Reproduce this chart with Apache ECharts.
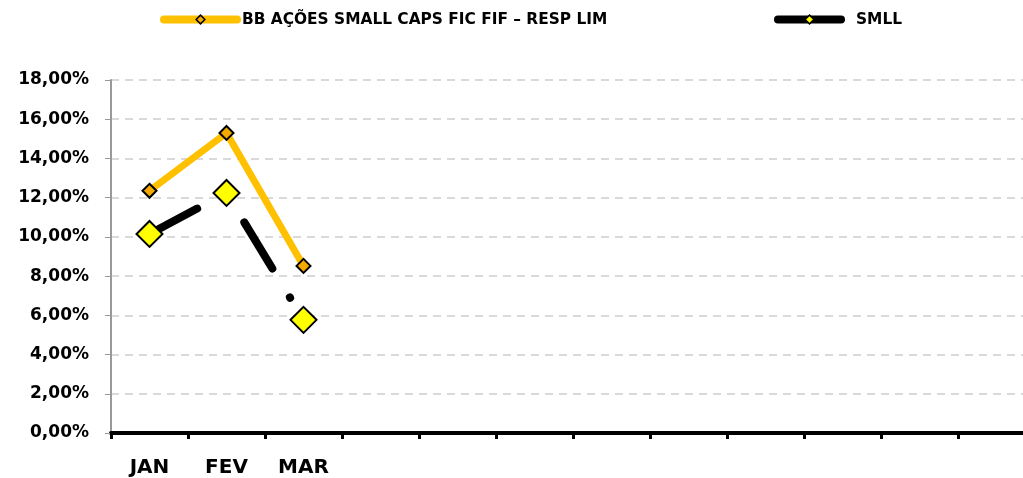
<!DOCTYPE html>
<html>
<head>
<meta charset="utf-8">
<script src="https://cdn.jsdelivr.net/npm/echarts@6/dist/echarts.min.js"></script>
<style>
    html, body {margin: 0; padding: 0; background: #fff; overflow: hidden;}
    #main {width: 1036px; height: 478px;}
</style>
</head>
<body>
<div id="main"></div>
<script>
// 月份（后面的月份没有标签）
var months = ['JAN', 'FEV', 'MAR', '', '', '', '', '', '', '', '', ''];
var fundName = 'BB AÇÕES SMALL CAPS FIC FIF – RESP LIM';
var fundValues = [12.35, 15.3, 8.52];
var indexName = 'SMLL';
var indexValues = [10.15, 12.24, 5.77];

var myChart = echarts.init(document.getElementById('main'));

var font = 'DejaVu Sans';
var legendText = {
    fontFamily: font,
    fontWeight: 'bold',
    fontSize: 15.4,
    color: '#000'
};

var option = {
    animation: false,
    backgroundColor: '#fff',
    legend: [{
        left: 160,
        top: 12,
        padding: 0,
        itemWidth: 73,
        itemHeight: 11,
        textStyle: legendText,
        data: [{
            name: fundName,
            itemStyle: {color: '#F2A900', borderColor: '#000', borderWidth: 1.5},
            lineStyle: {color: '#FFC000', width: 8, cap: 'round'}
        }]
    }, {
        left: 774,
        top: 12,
        padding: 0,
        itemWidth: 63,
        itemHeight: 11,
        textStyle: Object.assign({padding: [0, 0, 0, 10]}, legendText),
        data: [{
            name: indexName,
            itemStyle: {color: '#FFFF00', borderColor: '#000', borderWidth: 1.5},
            lineStyle: {color: '#000', width: 8, type: 'solid', cap: 'round'}
        }]
    }],
    grid: {
        left: 111,
        right: 1,
        top: 80,
        bottom: 45
    },
    xAxis: {
        type: 'category',
        data: months,
        boundaryGap: true,
        axisLine: {lineStyle: {color: '#000', width: 4}},
        axisTick: {show: true, length: 6, lineStyle: {color: '#000', width: 3}},
        axisLabel: {
            interval: 0,
            margin: 25,
            fontFamily: font,
            fontWeight: 'bold',
            fontSize: 20,
            color: '#000'
        },
        splitLine: {show: false}
    },
    yAxis: {
        type: 'value',
        min: 0,
        max: 18,
        interval: 2,
        axisLine: {show: true, lineStyle: {color: '#999', width: 2}},
        axisTick: {show: true, length: 6, lineStyle: {color: '#999', width: 1}},
        axisLabel: {
            margin: 22,
            fontFamily: font,
            fontWeight: 'bold',
            fontSize: 17,
            color: '#000',
            formatter: function (v) {
                return v.toFixed(2).replace('.', ',') + '%';
            }
        },
        splitLine: {lineStyle: {color: '#d9d9d9', width: 2, type: [8, 6]}}
    },
    series: [
        {
            name: fundName,
            type: 'line',
            data: fundValues,
            symbol: 'diamond',
            symbolSize: 14,
            lineStyle: {color: '#FFC000', width: 7},
            itemStyle: {color: '#F2A900', borderColor: '#000', borderWidth: 2},
            z: 3
        },
        {
            name: indexName,
            type: 'line',
            data: indexValues,
            symbol: 'diamond',
            symbolSize: 26,
            lineStyle: {color: '#000', width: 8, type: [54, 33.8, 0.5, 33.3], cap: 'round'},
            itemStyle: {color: '#FFFF00', borderColor: '#000', borderWidth: 2},
            z: 4
        }
    ]
};

myChart.setOption(option);
</script>
</body>
</html>
